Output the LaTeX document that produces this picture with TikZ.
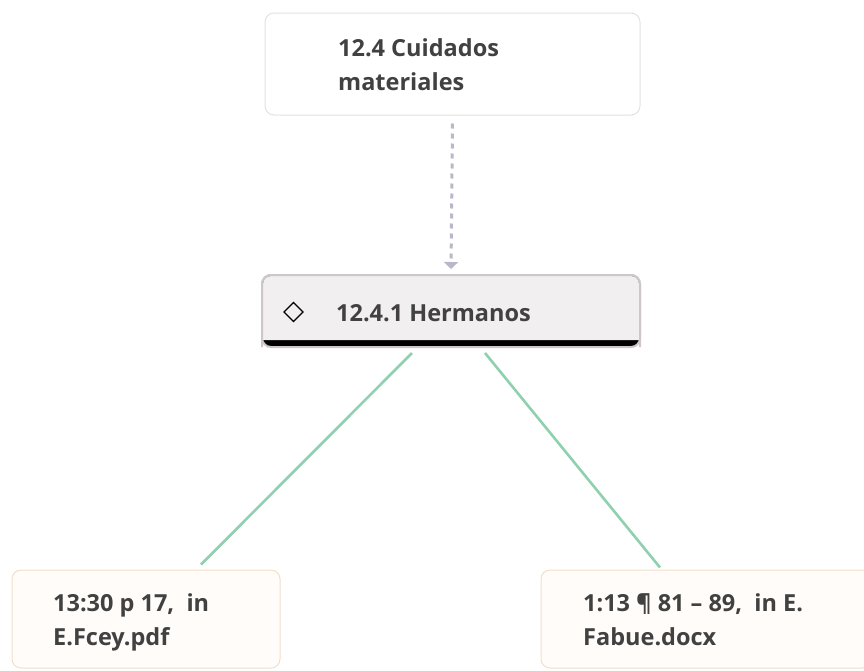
\documentclass[tikz,border=0pt]{standalone}
\usepackage{fontspec}
\setmainfont{Open Sans}
\usetikzlibrary{calc,arrows.meta}
\definecolor{txt}{HTML}{414141}
\definecolor{boxline}{HTML}{E2E2E2}
\definecolor{midfill}{HTML}{F1EFF0}
\definecolor{midline}{HTML}{CFC6CA}
\definecolor{docfill}{HTML}{FFFCF9}
\definecolor{docline}{HTML}{F2DFC8}
\definecolor{dashc}{HTML}{B9B8C8}
\definecolor{linkc}{HTML}{8FD0AE}
\tikzset{
  basebox/.style={rectangle, rounded corners=9pt, minimum width=#1, inner sep=0pt},
  label/.style={anchor=base west, inner sep=0pt, text=txt, font=\fontsize{23.5}{34}\selectfont\bfseries, align=left},
  link/.style={linkc, line width=2.6pt},
}
\begin{document}
\begin{tikzpicture}[x=1pt,y=-1pt]
\useasboundingbox (0,0) rectangle (864,670);
% top box
\node[basebox=375pt, minimum height=102pt, draw=boxline, fill=white, line width=1pt] (top) at (452.5,64) {};
\node[label] (toptext) at (338,90) {12.4 Cuidados\\materiales};
% middle box
\node[basebox=378pt, minimum height=72pt, fill=black, draw=midline, line width=2pt] (mid) at (451,311) {};
\fill[midfill, rounded corners=8pt] (263,276) -- (639,276) -- (639,340) [sharp corners] -- (639,340) -- (263,340) [rounded corners=8pt] -- cycle;
\fill[midfill] (263,330) rectangle (639,340);
\draw[midline, line width=2pt, rounded corners=9pt] (262,347) -- (262,275) -- (640,275) -- (640,347);
\node[draw=black, line width=1.2pt, shape=rectangle, minimum size=13.5pt, inner sep=0pt, rotate=45] (icon) at (293.5,312) {};
\node[label] (midtext) at (336,321) {12.4.1 Hermanos};
% bottom boxes
\node[basebox=268pt, minimum height=98pt, draw=docline, fill=docfill, line width=1pt] (bl) at (146,619) {};
\node[label] (bltext) at (53,645) {13:30 p 17,\ \ in\\E.Fcey.pdf};
\node[basebox=330pt, minimum height=98pt, draw=docline, fill=docfill, line width=1pt] (br) at (706,619) {};
\node[label] (brtext) at (583,645) {1:13 ¶ 81 – 89,\ \ in E.\\Fabue.docx};
% connectors
\draw[dashc, line width=3pt, dash pattern=on 5pt off 5pt, -{Triangle[length=7pt,width=14pt]}] ($(top.south)+(0,8)$) -- ($(mid.north)+(0,-5)$);
\draw[link] ($(mid.south)+(-39,5)$) -- ($(bl.north)+(55,-5)$);
\draw[link] ($(mid.south)+(34,5)$) -- ($(br.north)+(-46,-2)$);
\end{tikzpicture}
\end{document}
